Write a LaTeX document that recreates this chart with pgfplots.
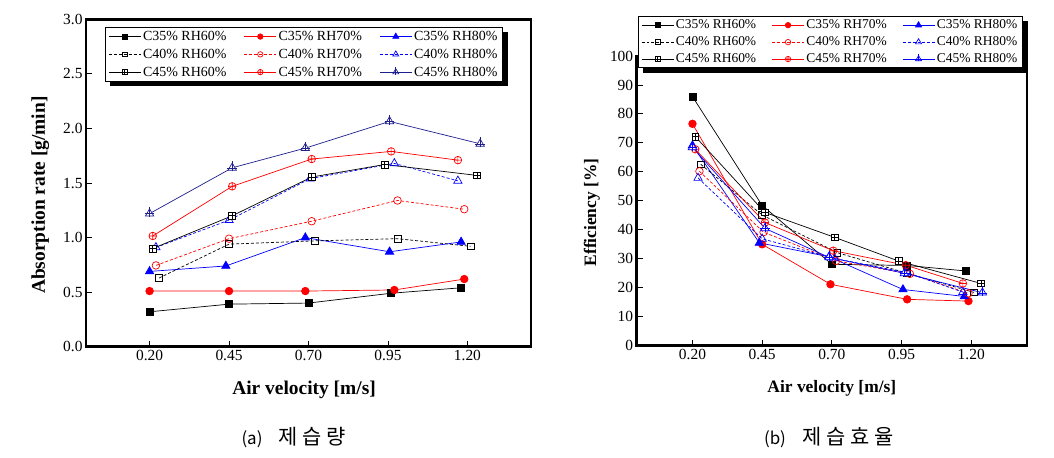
\documentclass[border=0pt]{standalone}
\usepackage{fontspec}
\setmainfont{Liberation Serif}
\newfontfamily\krfont{Noto Sans CJK KR}
\usepackage{pgfplots}
\pgfplotsset{compat=1.18}
\definecolor{navy}{RGB}{30,30,140}

\pgfdeclareplotmark{boxplus}{%
  \pgfpathrectangle{\pgfpoint{-\pgfplotmarksize}{-\pgfplotmarksize}}{\pgfpoint{2\pgfplotmarksize}{2\pgfplotmarksize}}%
  \pgfusepathqfillstroke
  \pgfpathmoveto{\pgfpoint{-\pgfplotmarksize}{0pt}}\pgfpathlineto{\pgfpoint{\pgfplotmarksize}{0pt}}%
  \pgfpathmoveto{\pgfpoint{0pt}{-\pgfplotmarksize}}\pgfpathlineto{\pgfpoint{0pt}{\pgfplotmarksize}}%
  \pgfusepathqstroke}
\pgfdeclareplotmark{triplus}{%
  \pgfpathmoveto{\pgfpoint{0pt}{\pgfplotmarksize}}%
  \pgfpathlineto{\pgfpoint{-0.866\pgfplotmarksize}{-0.5\pgfplotmarksize}}%
  \pgfpathlineto{\pgfpoint{0.866\pgfplotmarksize}{-0.5\pgfplotmarksize}}%
  \pgfpathclose
  \pgfusepathqfillstroke
  \pgfpathmoveto{\pgfpoint{-1.0\pgfplotmarksize}{-0.05\pgfplotmarksize}}\pgfpathlineto{\pgfpoint{1.0\pgfplotmarksize}{-0.05\pgfplotmarksize}}%
  \pgfpathmoveto{\pgfpoint{0pt}{-0.7\pgfplotmarksize}}\pgfpathlineto{\pgfpoint{0pt}{1.35\pgfplotmarksize}}%
  \pgfusepathqstroke}

\pgfplotsset{
  mystyle/.style={
    scale only axis,
    xmin=0, xmax=1.4,
    xtick={0.2,0.45,0.7,0.95,1.2},
    xticklabels={0.20,0.45,0.70,0.95,1.20},
    tick align=inside, xtick pos=bottom, ytick pos=left,
    major tick length=6bp,
    axis line style={line width=2.6bp},
    every tick/.style={black, line width=0.9bp},
    tick label style={font=\fontsize{15.5}{15.5}\selectfont},
    /pgf/number format/assume math mode=true,
    clip=false,
    legend columns=3,
    legend cell align=left,
    legend image code/.code={\draw[mark repeat=2,mark phase=2,##1,every mark/.append style={scale=0.72}] plot coordinates {(0bp,0bp)(16bp,0bp)(32bp,0bp)};},
    legend style={draw=black, line width=0.9bp, fill=white, anchor=north west,
      inner xsep=3bp, inner ysep=2bp, row sep=4bp,
      nodes={inner xsep=2bp, inner ysep=1.5bp},
      /tikz/every even column/.append style={column sep=15.5bp}},
  },
  s1/.style={black, line width=0.7bp, mark=square*, mark size=3.4bp, mark options={solid,fill=black}},
  s2/.style={red, line width=0.7bp, mark=*, mark size=3.8bp, mark options={solid,fill=red}},
  s3/.style={blue, line width=0.7bp, mark=triangle*, mark size=4.8bp, mark options={solid,fill=blue}},
  s4/.style={black, line width=0.7bp, densely dashed, mark=square, mark size=3.4bp, mark options={solid,fill=white}},
  s5/.style={red, line width=0.7bp, densely dashed, mark=o, mark size=3.8bp, mark options={solid,fill=white}},
  s6/.style={blue, line width=0.7bp, densely dashed, mark=triangle, mark size=4.8bp, mark options={solid,fill=white}},
  s7/.style={black, line width=0.7bp, mark=boxplus, mark size=3.4bp, mark options={solid,fill=white}},
  s8/.style={red, line width=0.7bp, mark=oplus, mark size=3.8bp, mark options={solid,fill=white}},
}

\begin{document}
\begin{tikzpicture}
\path (0,0) rectangle (1054bp,458bp);

% ---------------- (a) absorption rate ----------------
\begin{axis}[mystyle,
  at={(86bp,111.3bp)}, anchor=south west,
  width=445bp, height=327.3bp,
  ymin=0, ymax=3.0, ytick={0,0.5,...,3.0},
  yticklabel style={/pgf/number format/fixed,/pgf/number format/fixed zerofill,/pgf/number format/precision=1},
  xlabel={\textbf{Air velocity [m/s]}},
  ylabel={\textbf{Absorption rate [g/min]}},
  label style={font=\fontsize{19.5}{19.5}\selectfont},
  xlabel style={at={(axis description cs:0.49,-0.132)}, anchor=center},
  ylabel style={at={(axis description cs:-0.103,0.463)}, anchor=center},
  legend style={name=legA, at={(axis description cs:0.0427,0.976)}, font=\fontsize{14}{14}\selectfont},
]
\addplot[s1] coordinates {(0.20,0.32)(0.45,0.39)(0.70,0.40)(0.96,0.49)(1.18,0.54)};
\addlegendentry{C35\% RH60\%}
\addplot[s2] coordinates {(0.20,0.51)(0.45,0.51)(0.69,0.51)(0.97,0.52)(1.19,0.62)};
\addlegendentry{C35\% RH70\%}
\addplot[s3] coordinates {(0.20,0.69)(0.44,0.74)(0.69,1.00)(0.955,0.87)(1.18,0.96)};
\addlegendentry{C35\% RH80\%}
\addplot[s4] coordinates {(0.23,0.63)(0.45,0.94)(0.72,0.97)(0.98,0.99)(1.21,0.92)};
\addlegendentry{C40\% RH60\%}
\addplot[s5] coordinates {(0.22,0.745)(0.45,0.99)(0.71,1.15)(0.98,1.34)(1.19,1.26)};
\addlegendentry{C40\% RH70\%}
\addplot[s6] coordinates {(0.22,0.91)(0.45,1.16)(0.705,1.54)(0.97,1.68)(1.17,1.52)};
\addlegendentry{C40\% RH80\%}
\addplot[s7] coordinates {(0.21,0.90)(0.46,1.20)(0.71,1.555)(0.94,1.67)(1.23,1.57)};
\addlegendentry{C45\% RH60\%}
\addplot[s8] coordinates {(0.21,1.015)(0.46,1.47)(0.71,1.72)(0.96,1.79)(1.17,1.71)};
\addlegendentry{C45\% RH70\%}
\addplot[navy, line width=0.7bp, mark=triplus, mark size=4.8bp, mark options={solid,fill=white}] coordinates {(0.20,1.22)(0.46,1.64)(0.69,1.82)(0.955,2.065)(1.24,1.86)};
\addlegendentry{C45\% RH80\%}
\end{axis}

% ---------------- (b) efficiency ----------------
\begin{axis}[mystyle,
  at={(636.7bp,112.3bp)}, anchor=south west,
  width=390.3bp, height=289.7bp,
  ymin=0, ymax=100, ytick={0,10,...,100},
  xlabel={\textbf{Air velocity [m/s]}},
  ylabel={\textbf{Efficiency [\%]}},
  label style={font=\fontsize{17.5}{17.5}\selectfont},
  xlabel style={at={(axis description cs:0.5,-0.146)}, anchor=center},
  ylabel style={at={(axis description cs:-0.115,0.46)}, anchor=center},
  legend style={name=legB, at={(axis description cs:0.0026,1.138)}, font=\fontsize{13.5}{13.5}\selectfont,
    row sep=3.5bp,
    /tikz/every even column/.append style={column sep=13.5bp}},
]
\addplot[s1] coordinates {(0.20,86.0)(0.45,48.4)(0.70,28.1)(0.97,27.7)(1.18,25.8)};
\addlegendentry{C35\% RH60\%}
\addplot[s2] coordinates {(0.20,76.6)(0.45,35.0)(0.695,21.2)(0.97,16.0)(1.19,15.4)};
\addlegendentry{C35\% RH70\%}
\addplot[s3] coordinates {(0.20,69.1)(0.44,35.5)(0.69,30.7)(0.955,19.4)(1.175,17.0)};
\addlegendentry{C35\% RH80\%}
\addplot[s4] coordinates {(0.23,62.6)(0.45,45.1)(0.72,32.1)(0.97,25.0)(1.21,18.4)};
\addlegendentry{C40\% RH60\%}
\addplot[s5] coordinates {(0.225,60.2)(0.455,39.2)(0.715,29.3)(0.98,24.8)(1.19,18.1)};
\addlegendentry{C40\% RH70\%}
\addplot[s6] coordinates {(0.22,57.9)(0.45,36.9)(0.71,30.1)(0.97,25.2)(1.17,18.5)};
\addlegendentry{C40\% RH80\%}
\addplot[s7] coordinates {(0.21,72.2)(0.46,46.0)(0.71,37.4)(0.94,29.2)(1.235,21.5)};
\addlegendentry{C45\% RH60\%}
\addplot[s8] coordinates {(0.21,67.8)(0.46,42.5)(0.705,32.8)(0.965,27.8)(1.17,21.5)};
\addlegendentry{C45\% RH70\%}
\addplot[blue, line width=0.7bp, mark=triplus, mark size=4.8bp, mark options={solid,fill=white}] coordinates {(0.20,68.5)(0.46,40.5)(0.69,30.5)(0.96,25.0)(1.24,18.3)};
\addlegendentry{C45\% RH80\%}
\end{axis}

% legend shadows
\fill[black] ([shift={(5bp,0bp)}]legA.south west) rectangle ([shift={(5bp,-5bp)}]legA.south east);
\fill[black] ([shift={(0bp,-5bp)}]legA.north east) rectangle ([shift={(5bp,0bp)}]legA.south east);
\fill[black] ([shift={(5bp,0bp)}]legB.south west) rectangle ([shift={(5bp,-5bp)}]legB.south east);
\fill[black] ([shift={(0bp,-5bp)}]legB.north east) rectangle ([shift={(5bp,0bp)}]legB.south east);

\node at (295bp,20bp) {\krfont\fontsize{17}{17}\selectfont (a)\hspace{14bp}\fontsize{21}{21}\selectfont\makebox[24bp]{제}\makebox[24bp]{습}\makebox[24bp]{량}};
\node at (830bp,20bp) {\krfont\fontsize{17}{17}\selectfont (b)\hspace{14bp}\fontsize{21}{21}\selectfont\makebox[24bp]{제}\makebox[24bp]{습}\makebox[24bp]{효}\makebox[24bp]{율}};
\end{tikzpicture}
\end{document}
